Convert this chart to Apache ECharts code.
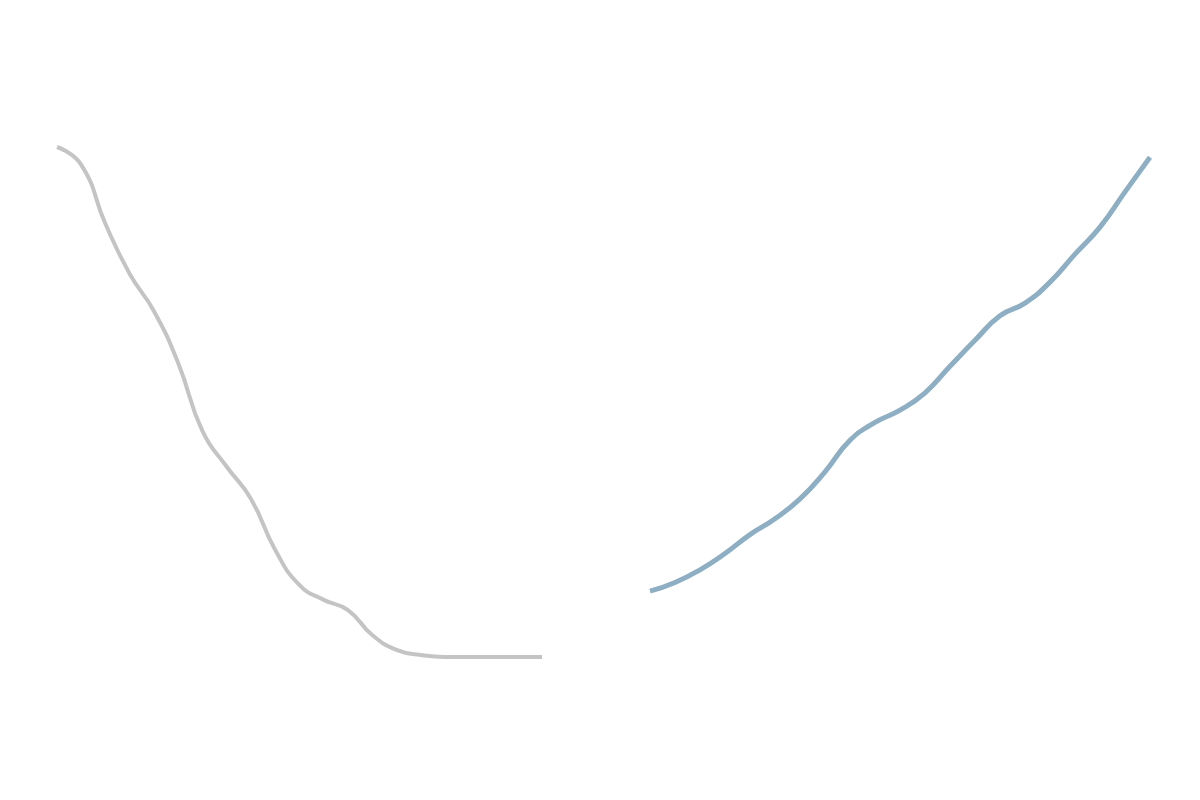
<!DOCTYPE html>
<html>
<head>
<meta charset="utf-8">
<script src="https://cdn.jsdelivr.net/npm/echarts@6/dist/echarts.min.js"></script>
<style>
  html, body { margin: 0; padding: 0; background: #fff; }
  #chart { width: 1200px; height: 800px; }
</style>
</head>
<body>
<div id="chart"></div>
<script>
// 21 evenly spaced steps per series
const leftSteps = ['0','1','2','3','4','5','6','7','8','9','10','11','12','13','14','15','16','17','18','19','20'];
const rightSteps = ['0','1','2','3','4','5','6','7','8','9','10','11','12','13','14','15','16','17','18','19','20'];

// gray series, falling
const grayValues = [100, 96.5, 84.9, 75.1, 67.8, 57.6, 44.3, 37.3, 31.0, 21.0, 14.1,
  11.2, 9.2, 4.3, 1.4, 0.4, 0, 0, 0, 0, 0];
// blue series, rising
const blueValues = [12.9, 14.6, 17.1, 20.3, 24.0, 27.1, 31.0, 36.3, 42.5, 46.0, 48.4,
  51.8, 57.0, 62.1, 66.9, 69.4, 73.5, 79.0, 84.3, 91.2, 98.0];

const chart = echarts.init(document.getElementById('chart'));

const hiddenY = { type: 'value', min: 0, max: 100, show: false };
const hiddenX = (data, idx) => ({
  type: 'category', gridIndex: idx, data: data, boundaryGap: false, show: false
});

chart.setOption({
  animation: false,
  grid: [
    { left: 57, width: 485, top: 147, bottom: 143 },
    { left: 650, width: 500, top: 147, bottom: 143 }
  ],
  xAxis: [hiddenX(leftSteps, 0), hiddenX(rightSteps, 1)],
  yAxis: [
    Object.assign({ gridIndex: 0 }, hiddenY),
    Object.assign({ gridIndex: 1 }, hiddenY)
  ],
  series: [
    {
      type: 'line',
      xAxisIndex: 0,
      yAxisIndex: 0,
      data: grayValues,
      smooth: 0.5,
      showSymbol: false,
      lineStyle: { color: '#c4c4c4', width: 4 }
    },
    {
      type: 'line',
      xAxisIndex: 1,
      yAxisIndex: 1,
      data: blueValues,
      smooth: 0.5,
      showSymbol: false,
      lineStyle: { color: '#8eafc3', width: 5 }
    }
  ]
});
</script>
</body>
</html>
